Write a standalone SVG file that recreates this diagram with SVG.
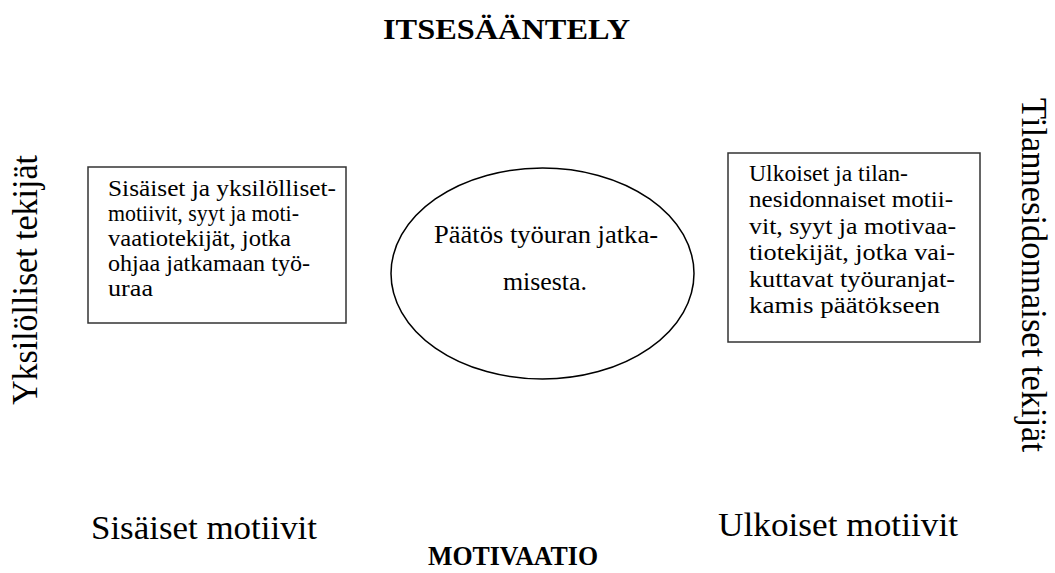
<svg xmlns="http://www.w3.org/2000/svg" width="1055" height="573" viewBox="0 0 1055 573">
<style>
  text { font-family: "Liberation Serif", "Times New Roman", serif; fill: #000; }
  .title { font-weight: bold; font-size: 30px; }
  .axis { font-size: 35px; }
  .bottom { font-size: 34px; }
  .box { fill: #fff; stroke: #333; stroke-width: 1.5; }
  .btxt { font-size: 24px; }
  .etxt { font-size: 26px; }
</style>
<rect width="1055" height="573" fill="#fff"/>
<g id="title-top"><text class="title" x="383" y="39" textLength="247" lengthAdjust="spacingAndGlyphs">ITSESÄÄNTELY</text></g>
<g id="title-bottom"><text class="title" x="428" y="565" textLength="170" lengthAdjust="spacingAndGlyphs" style="font-size:28px">MOTIVAATIO</text></g>
<g id="label-left-vertical"><text class="axis" transform="translate(37,405) rotate(-90)" textLength="250" lengthAdjust="spacingAndGlyphs">Yksilölliset tekijät</text></g>
<g id="label-right-vertical"><text class="axis" transform="translate(1022,98) rotate(90)" textLength="354" lengthAdjust="spacingAndGlyphs">Tilannesidonnaiset tekijät</text></g>
<g id="label-sisaiset"><text class="bottom" x="91" y="539" textLength="226" lengthAdjust="spacingAndGlyphs">Sisäiset motiivit</text></g>
<g id="label-ulkoiset"><text class="bottom" x="718" y="536" textLength="240" lengthAdjust="spacingAndGlyphs">Ulkoiset motiivit</text></g>
<g id="node-left">
  <rect class="box" x="88" y="167" width="258" height="156"/>
  <text class="btxt" x="108" y="196" textLength="228" lengthAdjust="spacingAndGlyphs">Sisäiset ja yksilölliset-</text>
  <text class="btxt" x="108" y="221" textLength="191" lengthAdjust="spacingAndGlyphs">motiivit, syyt ja moti-</text>
  <text class="btxt" x="108" y="246" textLength="183" lengthAdjust="spacingAndGlyphs">vaatiotekijät, jotka</text>
  <text class="btxt" x="108" y="271" textLength="202" lengthAdjust="spacingAndGlyphs">ohjaa jatkamaan työ-</text>
  <text class="btxt" x="108" y="296" textLength="45" lengthAdjust="spacingAndGlyphs">uraa</text>
</g>
<g id="node-center">
  <ellipse cx="542.5" cy="273.5" rx="151.5" ry="105.5" fill="#fff" stroke="#000" stroke-width="1.5"/>
  <text class="etxt" x="434" y="243" textLength="224" lengthAdjust="spacingAndGlyphs">Päätös työuran jatka-</text>
  <text class="etxt" x="503" y="290" textLength="84" lengthAdjust="spacingAndGlyphs">misesta.</text>
</g>
<g id="node-right">
  <rect class="box" x="728" y="153" width="252" height="189"/>
  <text class="btxt" x="749" y="181" textLength="159" lengthAdjust="spacingAndGlyphs">Ulkoiset ja tilan-</text>
  <text class="btxt" x="749" y="207" textLength="204" lengthAdjust="spacingAndGlyphs">nesidonnaiset motii-</text>
  <text class="btxt" x="749" y="234" textLength="207" lengthAdjust="spacingAndGlyphs">vit, syyt ja motivaa-</text>
  <text class="btxt" x="749" y="260" textLength="206" lengthAdjust="spacingAndGlyphs">tiotekijät, jotka vai-</text>
  <text class="btxt" x="749" y="287" textLength="206" lengthAdjust="spacingAndGlyphs">kuttavat työuranjat-</text>
  <text class="btxt" x="749" y="313" textLength="191" lengthAdjust="spacingAndGlyphs">kamis päätökseen</text>
</g>
<g id="connectors"></g>
</svg>
